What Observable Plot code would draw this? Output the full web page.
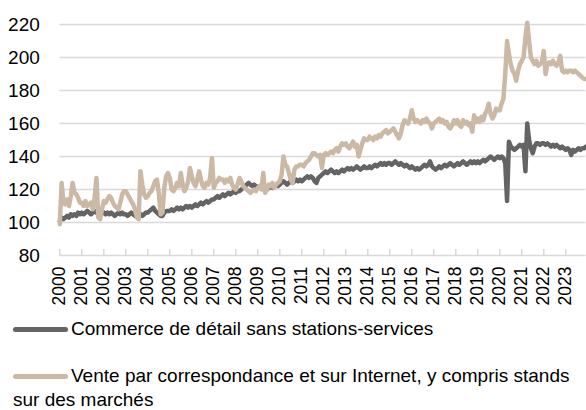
<!DOCTYPE html>
<html>
<head>
<meta charset="utf-8">
<script src="https://cdn.jsdelivr.net/npm/d3@7"></script>
<script src="https://cdn.jsdelivr.net/npm/@observablehq/plot@0.6"></script>
<style>
  html, body { margin: 0; padding: 0; background: #fff; }
  #wrap { position: relative; width: 586px; height: 410px; overflow: hidden; font-family: "Liberation Sans", Arial, sans-serif; color: #000; }
  #chart { position: absolute; left: 0; top: 0; }
  .leg { position: absolute; left: 13px; font-size: 19px; line-height: 24px; white-space: nowrap; }
  .sw { display: inline-block; width: 55px; height: 5px; border-radius: 3px; vertical-align: 3.5px; margin-right: 3px; }
</style>
</head>
<body>
<div id="wrap">
  <div id="chart"></div>
  <div class="leg" style="top:317px"><span class="sw" style="background:#646464"></span>Commerce de détail sans stations-services</div>
  <div class="leg" style="top:364px"><span class="sw" style="background:#cbb9a5"></span>Vente par correspondance et sur Internet, y compris stands<br>sur des marchés</div>
</div>
<script>
// Monthly index values, Jan 2000 – Dec 2023
const commerce = [
  101,103,102,103,104,103,105,104,105,104,106,105, // 2000
  106,105,106,107,106,105,106,107,106,105,106,107, // 2001
  106,105,106,105,106,105,104,105,106,105,106,105, // 2002
  105,104,105,106,105,104,105,106,105,104,105,106, // 2003
  106,107,108,109,107,106,105,104,104,106,107,107, // 2004
  107,108,107,108,109,108,109,108,109,110,109,110, // 2005
  109,110,111,110,111,112,111,112,113,112,113,114, // 2006
  114,115,116,115,116,117,116,117,118,117,118,119, // 2007
  118,119,119,120,121,122,123,124,123,122,123,122, // 2008
  121,122,121,122,121,120,121,122,121,122,123,122, // 2009
  123,124,125,124,123,124,125,124,125,126,125,126, // 2010
  125,126,127,128,127,128,127,125,124,127,128,129, // 2011
  130,131,130,131,132,131,130,131,130,131,132,131, // 2012
  132,133,132,133,132,133,134,133,132,133,134,133, // 2013
  133,134,133,134,135,134,135,136,135,136,135,136, // 2014
  136,135,136,137,136,135,136,135,134,135,134,133, // 2015
  134,133,132,133,132,133,134,135,134,135,137,134, // 2016
  133,132,133,134,133,134,135,134,135,136,135,134, // 2017
  135,136,135,136,137,136,135,136,137,136,137,136, // 2018
  137,136,137,138,137,138,139,140,139,138,139,140, // 2019
  139,140,139,136,113,149,146,145,144,145,146,147, // 2020
  146,147,131,160,150,145,142,146,148,148,147,148, // 2021
  148,147,148,147,146,147,146,147,146,145,146,145, // 2022
  144,145,144,141,144,143,144,145,144,145,145,146  // 2023
];
const vente = [
  99,124,112,111,114,110,116,124,118,117,115,112, // 2000
  112,110,113,110,111,112,108,115,127,103,102,108, // 2001
  113,112,114,116,115,112,110,109,108,112,117,119, // 2002
  119,117,115,113,111,108,103,102,131,123,117,115, // 2003
  116,118,119,122,125,126,118,105,106,121,128,130, // 2004
  127,120,119,121,124,122,130,123,119,121,125,133, // 2005
  128,124,122,126,131,126,122,121,124,123,127,139, // 2006
  121,124,125,127,126,126,124,126,125,127,123,121, // 2007
  120,123,127,125,122,121,120,119,118,119,120,119, // 2008
  121,122,120,130,118,120,123,122,124,121,123,124, // 2009
  125,129,140,135,134,130,126,124,132,134,134,135, // 2010
  135,134,136,137,138,140,142,142,141,140,141,133, // 2011
  141,142,141,142,143,142,144,145,143,146,148,147, // 2012
  148,146,145,147,149,146,147,140,144,148,151,150, // 2013
  150,152,151,150,152,151,153,152,154,155,156,154, // 2014
  155,156,157,155,153,151,154,159,162,161,160,163, // 2015
  168,163,161,162,161,160,162,161,163,161,160,157, // 2016
  160,161,162,163,161,162,160,161,158,157,159,162, // 2017
  160,162,159,158,162,160,161,159,160,155,165,161, // 2018
  163,161,164,162,166,168,172,166,163,165,169,168, // 2019
  168,172,175,190,210,202,196,192,190,186,192,196, // 2020
  198,200,212,221,210,200,198,196,198,195,196,197, // 2021
  204,190,196,197,196,198,196,195,197,201,192,191, // 2022
  192,191,192,192,191,192,191,190,189,188,187,187  // 2023
];
const yearLabels = d3.range(2000, 2024);
const yTicks = [80, 100, 120, 140, 160, 180, 200, 220];
const startYear = 2000;

const toRows = arr => arr.map((v, i) => ({t: startYear + i / 12, v}));
const rowsCommerce = toRows(commerce);
const rowsVente = toRows(vente);

const chart = Plot.plot({
  width: 586,
  height: 312,
  marginLeft: 59.3,
  marginRight: 0.6,
  marginTop: 24,
  marginBottom: 57,
  style: {fontFamily: "'Liberation Sans', Arial, sans-serif", color: "#000", background: "transparent", overflow: "visible"},
  x: {domain: [startYear, startYear + (commerce.length - 1) / 12], axis: null},
  y: {domain: [80, 220], axis: null},
  marks: [
    Plot.ruleY(yTicks, {stroke: "#d9d9d9", strokeWidth: 1.5}),
    Plot.tickX(yearLabels, {x: d => d, stroke: "#d9d9d9", strokeWidth: 1.5, insetTop: 225}),
    Plot.axisY(yTicks, {label: null, tickSize: 0, tickPadding: 20, fontSize: 19, tickFormat: d => String(d)}),
    Plot.axisX(yearLabels, {label: null, tickSize: 0, tickPadding: 11, tickRotate: -90, fontSize: 17.5, tickFormat: d => String(d)}),
    Plot.line(rowsCommerce, {x: "t", y: "v", stroke: "#646464", strokeWidth: 4.5, strokeLinejoin: "round", strokeLinecap: "round"}),
    Plot.line(rowsVente, {x: "t", y: "v", stroke: "#cbb9a5", strokeWidth: 4.5, strokeLinejoin: "round", strokeLinecap: "round"})
  ]
});
document.getElementById("chart").appendChild(chart);
</script>
</body>
</html>
